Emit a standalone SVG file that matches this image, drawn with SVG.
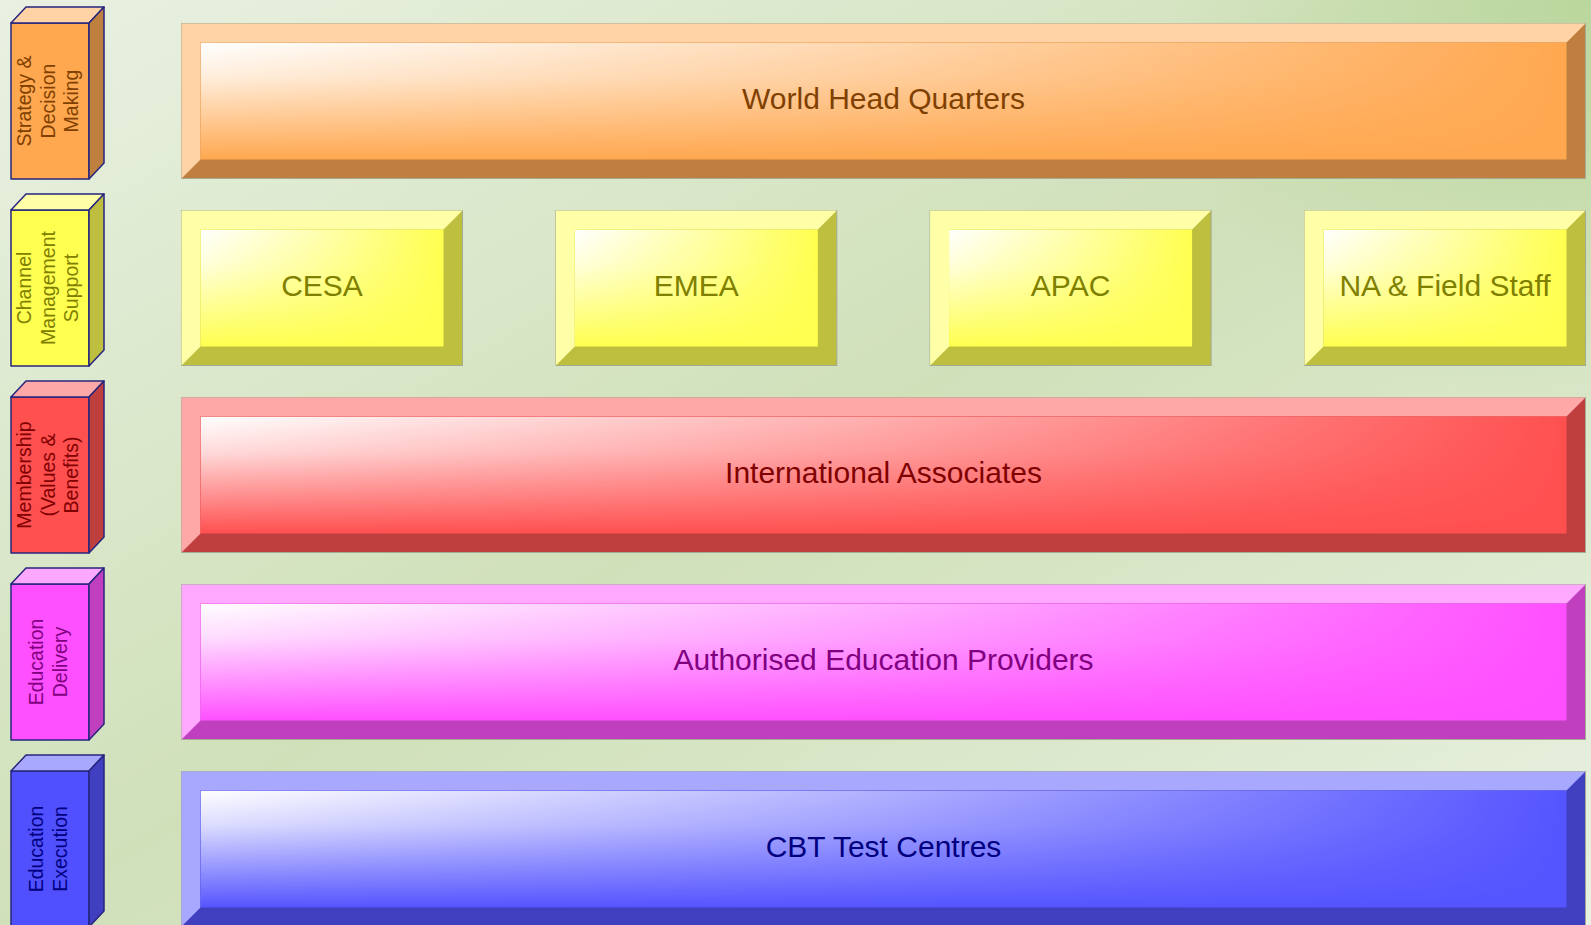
<svg xmlns="http://www.w3.org/2000/svg" width="1591" height="925" viewBox="0 0 1591 925">
<style>
.lbl{font-family:"Liberation Sans",Arial,sans-serif;font-size:30px;text-anchor:middle}
.cl{font-family:"Liberation Sans",Arial,sans-serif;font-size:19.5px;text-anchor:middle}
.edge{stroke:#a3ab95;stroke-width:1}
.cube{stroke:#26267e;stroke-width:1.5;stroke-linejoin:round}
</style>
<defs>
<linearGradient id="bg" x1="0" y1="0" x2="1" y2="1">
<stop offset="0" stop-color="#e9f1e2"/>
<stop offset="0.5" stop-color="#d0e0b9"/>
<stop offset="1" stop-color="#e9f1e2"/>
</linearGradient>
<radialGradient id="tr" cx="1" cy="0" r="0.45" gradientTransform="translate(1 0) scale(0.6 1) translate(-1 0)">
<stop offset="0" stop-color="#b8d69a" stop-opacity="0.9"/>
<stop offset="1" stop-color="#b8d69a" stop-opacity="0"/>
</radialGradient>
<linearGradient id="hg" x1="0" y1="0" x2="1" y2="0">
<stop offset="0" stop-color="#fff"/>
<stop offset="0.5" stop-color="#8a8a8a"/>
<stop offset="1" stop-color="#000"/>
</linearGradient>
<mask id="hm" maskContentUnits="objectBoundingBox">
<rect width="1" height="1" fill="url(#hg)"/>
</mask>
<linearGradient id="vw" x1="0" y1="0" x2="0" y2="1">
<stop offset="0" stop-color="#fff" stop-opacity="1"/>
<stop offset="0.3" stop-color="#fff" stop-opacity="0.8"/>
<stop offset="1" stop-color="#fff" stop-opacity="0"/>
</linearGradient>
</defs>
<rect x="0" y="0" width="1591" height="925" fill="url(#bg)"/>
<rect x="0" y="0" width="1591" height="925" fill="url(#tr)"/>

<!-- Left cubes -->
<g id="cube-strategy">
<rect class="cube" x="11" y="23" width="78" height="156" fill="#ffa850"/>
<polygon class="cube" points="11,23 26,7 104,7 89,23" fill="#ffd3a5"/>
<polygon class="cube" points="89,23 104,7 104,163 89,179" fill="#bf7f3f"/>
<g transform="translate(50,101) rotate(-90)" fill="#804000">
<text class="cl" x="0" y="-19">Strategy &amp;</text>
<text class="cl" x="0" y="4.5">Decision</text>
<text class="cl" x="0" y="28">Making</text>
</g>
</g>
<g id="cube-channel">
<rect class="cube" x="11" y="210" width="78" height="156" fill="#ffff50"/>
<polygon class="cube" points="11,210 26,194 104,194 89,210" fill="#ffffa8"/>
<polygon class="cube" points="89,210 104,194 104,350 89,366" fill="#bfbf3f"/>
<g transform="translate(50,288) rotate(-90)" fill="#808000">
<text class="cl" x="0" y="-19">Channel</text>
<text class="cl" x="0" y="4.5">Management</text>
<text class="cl" x="0" y="28">Support</text>
</g>
</g>
<g id="cube-membership">
<rect class="cube" x="11" y="397" width="78" height="156" fill="#ff5050"/>
<polygon class="cube" points="11,397 26,381 104,381 89,397" fill="#ffa8a8"/>
<polygon class="cube" points="89,397 104,381 104,537 89,553" fill="#bf3f3f"/>
<g transform="translate(50,475) rotate(-90)" fill="#800000">
<text class="cl" x="0" y="-19">Membership</text>
<text class="cl" x="0" y="4.5">(Values &amp;</text>
<text class="cl" x="0" y="28">Benefits)</text>
</g>
</g>
<g id="cube-delivery">
<rect class="cube" x="11" y="584" width="78" height="156" fill="#ff50ff"/>
<polygon class="cube" points="11,584 26,568 104,568 89,584" fill="#ffa8ff"/>
<polygon class="cube" points="89,584 104,568 104,724 89,740" fill="#bf3fbf"/>
<g transform="translate(50,662) rotate(-90)" fill="#800080">
<text class="cl" x="0" y="-7">Education</text>
<text class="cl" x="0" y="17">Delivery</text>
</g>
</g>
<g id="cube-execution">
<rect class="cube" x="11" y="771" width="78" height="156" fill="#5050ff"/>
<polygon class="cube" points="11,771 26,755 104,755 89,771" fill="#a8a8ff"/>
<polygon class="cube" points="89,771 104,755 104,911 89,927" fill="#3f3fbf"/>
<g transform="translate(50,849) rotate(-90)" fill="#000080">
<text class="cl" x="0" y="-7">Education</text>
<text class="cl" x="0" y="17">Execution</text>
</g>
</g>

<!-- Right boxes -->
<g id="whq">
<rect class="edge" x="181.5" y="23.5" width="1404" height="155" fill="#bf7f3f"/>
<polygon points="181.5,23.5 1585.5,23.5 1566.5,42.5 200.5,42.5 200.5,159.5 181.5,178.5" fill="#ffd3a5"/>
<rect x="200.5" y="42.5" width="1366" height="117" fill="#ffa850"/>
<rect x="200.5" y="42.5" width="1366" height="117" fill="url(#vw)" mask="url(#hm)"/>
<text class="lbl" x="883.5" y="109" fill="#804000">World Head Quarters</text>
</g>

<g id="cesa">
<rect class="edge" x="181.5" y="210.5" width="281" height="155" fill="#bfbf3f"/>
<polygon points="181.5,210.5 462.5,210.5 443.5,229.5 200.5,229.5 200.5,346.5 181.5,365.5" fill="#ffffa8"/>
<rect x="200.5" y="229.5" width="243" height="117" fill="#ffff50"/>
<rect x="200.5" y="229.5" width="243" height="117" fill="url(#vw)" mask="url(#hm)"/>
<text class="lbl" x="322" y="296" fill="#808000">CESA</text>
</g>
<g id="emea">
<rect class="edge" x="555.8" y="210.5" width="281" height="155" fill="#bfbf3f"/>
<polygon points="555.8,210.5 836.8,210.5 817.8,229.5 574.8,229.5 574.8,346.5 555.8,365.5" fill="#ffffa8"/>
<rect x="574.8" y="229.5" width="243" height="117" fill="#ffff50"/>
<rect x="574.8" y="229.5" width="243" height="117" fill="url(#vw)" mask="url(#hm)"/>
<text class="lbl" x="696.3" y="296" fill="#808000">EMEA</text>
</g>
<g id="apac">
<rect class="edge" x="930.1" y="210.5" width="281" height="155" fill="#bfbf3f"/>
<polygon points="930.1,210.5 1211.1,210.5 1192.1,229.5 949.1,229.5 949.1,346.5 930.1,365.5" fill="#ffffa8"/>
<rect x="949.1" y="229.5" width="243" height="117" fill="#ffff50"/>
<rect x="949.1" y="229.5" width="243" height="117" fill="url(#vw)" mask="url(#hm)"/>
<text class="lbl" x="1070.6" y="296" fill="#808000">APAC</text>
</g>
<g id="na">
<rect class="edge" x="1304.5" y="210.5" width="281" height="155" fill="#bfbf3f"/>
<polygon points="1304.5,210.5 1585.5,210.5 1566.5,229.5 1323.5,229.5 1323.5,346.5 1304.5,365.5" fill="#ffffa8"/>
<rect x="1323.5" y="229.5" width="243" height="117" fill="#ffff50"/>
<rect x="1323.5" y="229.5" width="243" height="117" fill="url(#vw)" mask="url(#hm)"/>
<text class="lbl" x="1445" y="296" fill="#808000">NA &amp; Field Staff</text>
</g>

<g id="ia">
<rect class="edge" x="181.5" y="397.5" width="1404" height="155" fill="#bf3f3f"/>
<polygon points="181.5,397.5 1585.5,397.5 1566.5,416.5 200.5,416.5 200.5,533.5 181.5,552.5" fill="#ffa8a8"/>
<rect x="200.5" y="416.5" width="1366" height="117" fill="#ff5050"/>
<rect x="200.5" y="416.5" width="1366" height="117" fill="url(#vw)" mask="url(#hm)"/>
<text class="lbl" x="883.5" y="483" fill="#800000">International Associates</text>
</g>

<g id="aep">
<rect class="edge" x="181.5" y="584.5" width="1404" height="155" fill="#bf3fbf"/>
<polygon points="181.5,584.5 1585.5,584.5 1566.5,603.5 200.5,603.5 200.5,720.5 181.5,739.5" fill="#ffa8ff"/>
<rect x="200.5" y="603.5" width="1366" height="117" fill="#ff50ff"/>
<rect x="200.5" y="603.5" width="1366" height="117" fill="url(#vw)" mask="url(#hm)"/>
<text class="lbl" x="883.5" y="670" fill="#800080">Authorised Education Providers</text>
</g>

<g id="cbt">
<rect class="edge" x="181.5" y="771.5" width="1404" height="155" fill="#3f3fbf"/>
<polygon points="181.5,771.5 1585.5,771.5 1566.5,790.5 200.5,790.5 200.5,907.5 181.5,926.5" fill="#a8a8ff"/>
<rect x="200.5" y="790.5" width="1366" height="117" fill="#5555ff"/>
<rect x="200.5" y="790.5" width="1366" height="117" fill="url(#vw)" mask="url(#hm)"/>
<text class="lbl" x="883.5" y="857" fill="#000080">CBT Test Centres</text>
</g>

<g id="connectors"/>
</svg>
